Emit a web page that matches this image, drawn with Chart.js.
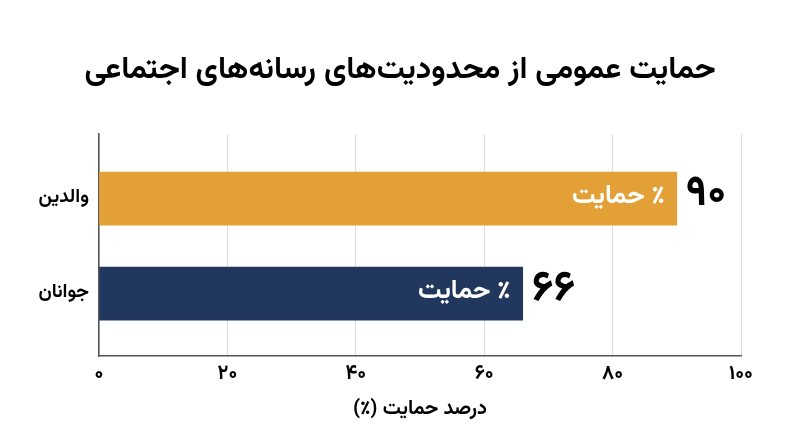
<!DOCTYPE html>
<html lang="fa">
<head>
<meta charset="utf-8">
<script src="https://cdn.jsdelivr.net/npm/chart.js@4.4.0/dist/chart.umd.min.js"></script>
<style>
  html, body { margin: 0; padding: 0; background: #ffffff; }
  #wrap { width: 800px; height: 447px; }
  canvas { direction: rtl; }
</style>
</head>
<body>
<div id="wrap"><canvas id="c" width="800" height="447"></canvas></div>
<script>
const titleText = 'حمایت عمومی از محدودیت‌های رسانه‌های اجتماعی';
const categories = ['والدین', 'جوانان'];
const values = [90, 66];
const valueLabels = ['۹۰', '۶۶'];
const innerLabel = '٪ حمایت';
const barColors = ['#E3A036', '#22375E'];
const tickValues = [0, 20, 40, 60, 80, 100];
const tickLabels = ['۰', '۲۰', '۴۰', '۶۰', '۸۰', '۱۰۰'];
const xAxisTitle = 'درصد حمایت (٪)';

const FONT = 'Vazirmatn, "DejaVu Sans", sans-serif';

const labelPlugin = {
  id: 'barLabels',
  afterDatasetsDraw(chart) {
    const ctx = chart.ctx;
    const meta = chart.getDatasetMeta(0);
    meta.data.forEach((bar, i) => {
      ctx.save();
      ctx.direction = 'rtl';
      ctx.textBaseline = 'middle';
      ctx.fillStyle = '#ffffff';
      ctx.font = 'bold 26px ' + FONT;
      ctx.textAlign = 'right';
      ctx.fillText(innerLabel, bar.x - 12, bar.y);
      ctx.fillStyle = '#000000';
      ctx.font = 'bold 43px ' + FONT;
      ctx.textAlign = 'left';
      ctx.fillText(valueLabels[i], bar.x + 9, bar.y);
      ctx.restore();
    });
  }
};

new Chart(document.getElementById('c'), {
  type: 'bar',
  data: {
    labels: categories,
    datasets: [{
      data: values,
      backgroundColor: barColors,
      borderWidth: 0,
      barThickness: 53
    }]
  },
  options: {
    indexAxis: 'y',
    responsive: false,
    animation: false,
    devicePixelRatio: 1,
    layout: { padding: 0 },
    plugins: {
      legend: { display: false },
      tooltip: { enabled: false },
      title: {
        display: true,
        text: titleText,
        color: '#000000',
        font: { family: FONT, size: 31, weight: 'bold' },
        padding: { top: 55, bottom: 42 }
      }
    },
    scales: {
      x: {
        min: 0,
        max: 100,
        afterBuildTicks(scale) {
          scale.ticks = tickValues.map(v => ({ value: v }));
        },
        afterFit(scale) { scale.height = 91; },
        grid: { color: '#dddddd', lineWidth: 1, drawTicks: false },
        border: { display: true, color: '#555555', width: 1.5 },
        ticks: {
          padding: 8,
          color: '#000000',
          font: { family: FONT, size: 20, weight: 'bold' },
          callback(value) { return tickLabels[tickValues.indexOf(value)]; }
        },
        title: {
          display: true,
          text: xAxisTitle,
          color: '#000000',
          font: { family: FONT, size: 20, weight: 'bold' },
          padding: { top: 0, bottom: 24 }
        }
      },
      y: {
        afterFit(scale) { scale.width = 99; },
        afterBuildTicks(scale) {
          scale._valueRange = 2.337;
          scale._startValue = -0.679;
        },
        grid: { display: false, drawTicks: false },
        border: { display: true, color: '#555555', width: 1.5 },
        ticks: {
          padding: 10,
          color: '#000000',
          font: { family: FONT, size: 19, weight: 'bold' }
        }
      },
      yRight: {
        type: 'category',
        position: 'right',
        afterFit(scale) { scale.width = 59; },
        grid: { display: false, drawTicks: false },
        border: { display: false },
        ticks: { display: false }
      }
    }
  },
  plugins: [labelPlugin]
});
</script>
</body>
</html>
